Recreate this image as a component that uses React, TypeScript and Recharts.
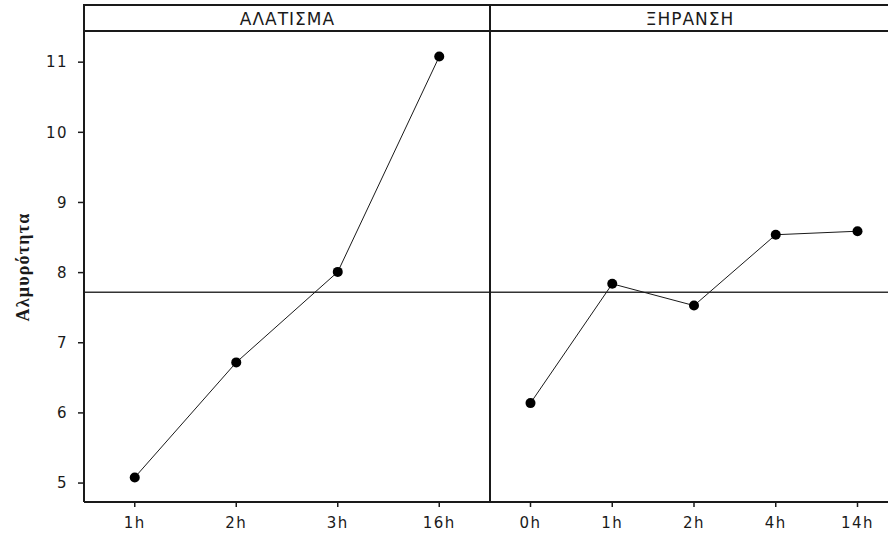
import React from "react";
import { LineChart, Line, XAxis, YAxis, ReferenceLine } from "recharts";

// Main effects for Αλμυρότητα: level means for each factor
const saltLevels = ["1h", "2h", "3h", "16h"];
const saltMeans = [5.08, 6.72, 8.01, 11.08];

const dryLevels = ["0h", "1h", "2h", "4h", "14h"];
const dryMeans = [6.14, 7.84, 7.53, 8.54, 8.59];

const grandMean = 7.72;
const yTicks = [5, 6, 7, 8, 9, 10, 11];
const yDomain = [4.73, 11.43];

const saltData = saltLevels.map((level, i) => ({ level, mean: saltMeans[i] }));
const dryData = dryLevels.map((level, i) => ({ level, mean: dryMeans[i] }));

const INK = "#1a1a1a";
const tickStyle = {
  fontSize: 15,
  fill: INK,
  fontFamily: "DejaVu Sans",
  letterSpacing: 1.5,
};

const headerCell: React.CSSProperties = {
  position: "absolute",
  top: 4,
  height: 28,
  boxSizing: "border-box",
  borderTop: `2px solid ${INK}`,
  borderBottom: `2px solid ${INK}`,
  borderLeft: `2px solid ${INK}`,
  display: "flex",
  alignItems: "center",
  justifyContent: "center",
  paddingTop: 2,
  fontFamily: "DejaVu Sans",
  fontSize: 17,
  letterSpacing: 1,
  color: INK,
};

const App: React.FC = () => {
  return (
    <div
      style={{
        position: "absolute",
        left: 0,
        top: 0,
        width: 888,
        height: 538,
        overflow: "hidden",
        background: "#fff",
      }}
    >
      <div style={{ position: "absolute", left: 0, top: 0 }}>
        <LineChart
          width={490}
          height={538}
          data={saltData}
          margin={{ top: 32, right: 0, bottom: 0, left: 0 }}
        >
          <XAxis
            dataKey="level"
            height={36}
            padding={{ left: 50.75, right: 50.75 }}
            axisLine={{ stroke: INK, strokeWidth: 2 }}
            tickLine={{ stroke: INK, strokeWidth: 1.5 }}
            tickSize={5}
            tickMargin={10}
            tick={tickStyle}
            interval={0}
          />
          <YAxis
            type="number"
            width={84}
            domain={yDomain}
            ticks={yTicks}
            allowDataOverflow
            axisLine={{ stroke: INK, strokeWidth: 2 }}
            tickLine={{ stroke: INK, strokeWidth: 1.5 }}
            tickSize={6}
            tickMargin={10}
            tick={tickStyle}
            label={{
              value: "Αλμυρότητα",
              angle: -90,
              position: "insideLeft",
              offset: 23,
              style: {
                textAnchor: "middle",
                fontFamily: "Liberation Serif",
                fontWeight: "bold",
                fontSize: 18,
                letterSpacing: 1.2,
                fill: INK,
              },
            }}
          />
          <ReferenceLine y={grandMean} stroke="#333" strokeWidth={1.5} />
          <Line
            dataKey="mean"
            stroke={INK}
            strokeWidth={1}
            dot={{ r: 5, fill: "#000", stroke: "none" }}
            isAnimationActive={false}
          />
        </LineChart>
      </div>

      <div style={{ position: "absolute", left: 488, top: 0 }}>
        <LineChart
          width={410}
          height={538}
          data={dryData}
          margin={{ top: 32, right: 0, bottom: 0, left: 2 }}
        >
          <XAxis
            dataKey="level"
            height={36}
            padding={{ left: 40.5, right: 40.5 }}
            axisLine={{ stroke: INK, strokeWidth: 2 }}
            tickLine={{ stroke: INK, strokeWidth: 1.5 }}
            tickSize={5}
            tickMargin={10}
            tick={tickStyle}
            interval={0}
          />
          <YAxis type="number" domain={yDomain} allowDataOverflow hide />
          <ReferenceLine y={grandMean} stroke="#333" strokeWidth={1.5} />
          <Line
            dataKey="mean"
            stroke={INK}
            strokeWidth={1}
            dot={{ r: 5, fill: "#000", stroke: "none" }}
            isAnimationActive={false}
          />
        </LineChart>
      </div>

      {/* panel divider */}
      <div
        style={{
          position: "absolute",
          left: 489,
          top: 4,
          width: 2,
          height: 499,
          background: INK,
        }}
      />

      <div style={{ ...headerCell, left: 83, width: 407 }}>ΑΛΑΤΙΣΜΑ</div>
      <div style={{ ...headerCell, left: 489, width: 420, paddingRight: 20 }}>
        ΞΗΡΑΝΣΗ
      </div>
    </div>
  );
};

export default App;
